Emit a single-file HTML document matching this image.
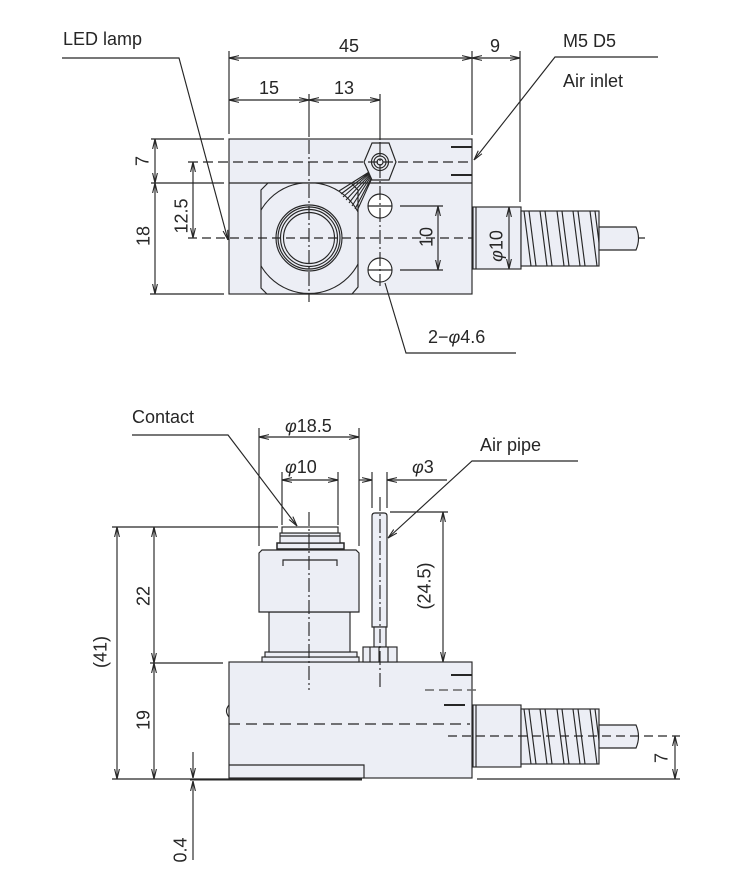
<!DOCTYPE html>
<html><head><meta charset="utf-8"><style>
html,body{margin:0;padding:0;background:#fff;}
svg{display:block;}
text{font-family:"Liberation Sans",Arial,sans-serif;font-size:18px;fill:#262626;}
</style></head><body>
<svg width="735" height="877" viewBox="0 0 735 877" xmlns="http://www.w3.org/2000/svg">
<defs>
<marker id="ar" viewBox="0 0 10 6" refX="10" refY="3" markerWidth="10" markerHeight="6" markerUnits="userSpaceOnUse" orient="auto-start-reverse"><path d="M0,0.6 L10,3 L0,5.4" fill="none" stroke="#262626" stroke-width="1.1"/></marker>
<clipPath id="plateClip"><polygon points="261,190 268,183 351,183 358,190 358,287 352,294 267,294 261,288"/></clipPath>
<clipPath id="springClip"><rect x="521" y="211" width="78" height="55"/></clipPath>
<g id="fit">
  <rect x="473" y="207" width="48" height="62" fill="#eceef5" stroke="#262626" stroke-width="1.15"/>
  <line x1="476" y1="207" x2="476" y2="269" stroke="#262626" stroke-width="1.15"/>
  <rect x="521" y="211" width="78" height="55" fill="#eceef5" stroke="#262626" stroke-width="1.15"/>
  <g clip-path="url(#springClip)" stroke="#262626" stroke-width="1.15" fill="none">
    <path d="M524,211 L531,266 M529,211 L536,266 M540,211 L547,266 M545,211 L552,266 M557,211 L564,266 M562,211 L569,266 M573,211 L580,266 M578,211 L585,266 M590,211 L597,266 M595,211 L602,266"/>
  </g>
  <path d="M599,227 L636,227 Q641,238.5 636,250 L599,250 Z" fill="#eceef5" stroke="#262626" stroke-width="1.15"/>
</g>
</defs>

<g stroke="#262626" stroke-width="1.15" fill="none">
<!-- ================= TOP VIEW ================= -->
<rect x="229" y="139" width="243" height="155" fill="#eceef5"/>
<line x1="229" y1="183" x2="472" y2="183"/>
<polygon points="261,190 268,183 351,183 358,190 358,287 352,294 267,294 261,288" fill="#eceef5"/>
<circle cx="309" cy="238" r="55.5" clip-path="url(#plateClip)"/>
<circle cx="309" cy="238" r="33"/>
<circle cx="309" cy="238" r="31"/>
<circle cx="309" cy="238" r="28.5"/>
<circle cx="309" cy="238" r="25.5" fill="#eceef5"/>
<!-- hatch wedge -->
<path d="M377,167 L339,191 M377,167 L341,194 M377,167 L343,197 M377,167 L346,200 M377,167 L349,203 M377,167 L352,206 M377,167 L355,209 M377,167 L357,211" stroke-width="1.1"/>
<!-- hex nut -->
<polygon points="372,143 389,143 396,162 389,180 372,180 364,162" fill="#eceef5"/>
<circle cx="380" cy="162" r="8.5"/>
<circle cx="380" cy="162" r="6"/>
<circle cx="380" cy="162" r="3"/>
<!-- holes -->
<circle cx="380" cy="206" r="12" fill="#fff"/>
<circle cx="380" cy="270" r="12" fill="#fff"/>
<line x1="368" y1="206" x2="392" y2="206"/>
<line x1="368" y1="270" x2="392" y2="270"/>
<!-- right short lines -->
<line x1="451" y1="147" x2="472" y2="147" stroke-width="2"/>
<line x1="451" y1="175" x2="472" y2="175" stroke-width="2"/>
<!-- center lines -->
<line x1="188" y1="162" x2="472" y2="162" stroke-dasharray="10,5"/>
<line x1="188" y1="238" x2="646" y2="238" stroke-dasharray="9,5"/>
<line x1="309" y1="94" x2="309" y2="137"/>
<line x1="309" y1="140" x2="309" y2="302" stroke-dasharray="14,3,2,3"/>
<line x1="380" y1="94" x2="380" y2="140"/>
<line x1="380" y1="142" x2="380" y2="286" stroke-dasharray="14,3,2,3"/>
<!-- fitting -->
<use href="#fit"/>
<!-- dims top -->
<line x1="229" y1="51" x2="229" y2="134"/>
<line x1="472" y1="51" x2="472" y2="135"/>
<line x1="520" y1="51" x2="520" y2="202"/>
<line x1="229" y1="58" x2="472" y2="58" marker-start="url(#ar)" marker-end="url(#ar)"/>
<line x1="472" y1="58" x2="520" y2="58" marker-start="url(#ar)" marker-end="url(#ar)"/>
<line x1="229" y1="100" x2="309" y2="100" marker-start="url(#ar)" marker-end="url(#ar)"/>
<line x1="309" y1="100" x2="380" y2="100" marker-start="url(#ar)" marker-end="url(#ar)"/>
<line x1="151" y1="139" x2="224" y2="139"/>
<line x1="151" y1="183" x2="224" y2="183"/>
<line x1="150" y1="294" x2="224" y2="294"/>
<line x1="155" y1="139" x2="155" y2="183" marker-start="url(#ar)" marker-end="url(#ar)"/>
<line x1="155" y1="183" x2="155" y2="294" marker-start="url(#ar)" marker-end="url(#ar)"/>
<line x1="193" y1="162" x2="193" y2="238" marker-start="url(#ar)" marker-end="url(#ar)"/>
<line x1="400" y1="206" x2="443" y2="206"/>
<line x1="400" y1="270" x2="443" y2="270"/>
<line x1="438" y1="206" x2="438" y2="270" marker-start="url(#ar)" marker-end="url(#ar)"/>
<line x1="509" y1="207" x2="509" y2="269" marker-start="url(#ar)" marker-end="url(#ar)"/>
<!-- leaders top -->
<polyline points="62,58 179,58 228,240" marker-end="url(#ar)"/>
<polyline points="658,57 555,57 474,160" marker-end="url(#ar)"/>
<polyline points="385,283 406,353 516,353"/>

<!-- ================= BOTTOM VIEW ================= -->
<rect x="229" y="662" width="243" height="116" fill="#eceef5"/>
<polyline points="229,765 364,765 364,778"/>
<line x1="190" y1="779.5" x2="362" y2="779.5" stroke-width="2"/>
<path d="M229,705 Q224,711 229,717"/>
<line x1="229" y1="724" x2="470" y2="724" stroke-dasharray="11,6"/>
<line x1="451" y1="675" x2="472" y2="675" stroke-width="2"/>
<line x1="425" y1="690" x2="480" y2="690" stroke-dasharray="9,5" stroke="#666" stroke-width="1.5"/>
<line x1="444" y1="705" x2="465" y2="705" stroke-width="2"/>
<use href="#fit" transform="translate(0,498)"/>
<line x1="448" y1="736" x2="680" y2="736" stroke-dasharray="9,5"/>
<!-- cylinder -->
<rect x="262" y="657" width="97" height="5" fill="#eceef5"/>
<rect x="265" y="652" width="92" height="5" fill="#eceef5"/>
<rect x="269" y="612" width="81" height="40" fill="#eceef5"/>
<path d="M259,553 L262,550 L356,550 L359,553 L359,612 L259,612 Z" fill="#eceef5"/>
<path d="M283,566 L283,560 L337,560 L337,566"/>
<rect x="277" y="543" width="67" height="6" fill="#eceef5" stroke-width="1.5"/>
<rect x="280" y="533" width="60" height="10" fill="#eceef5"/>
<line x1="280" y1="536" x2="340" y2="536"/>
<rect x="282" y="527" width="56" height="6" fill="#fff"/>
<line x1="309" y1="512" x2="309" y2="690" stroke-dasharray="14,3,2,3"/>
<!-- air pipe -->
<path d="M372,627 L372,516 Q372,513 375,513 L384,513 Q387,513 387,516 L387,627 Z" fill="#eceef5"/>
<rect x="374" y="627" width="12" height="20" fill="#eceef5"/>
<rect x="363" y="647" width="34" height="15" fill="#eceef5"/>
<path d="M370,647 L370,662 M379,647 L379,662 M388,647 L388,662"/>
<line x1="380" y1="497" x2="380" y2="690" stroke-dasharray="14,3,2,3"/>
<!-- dims bottom -->
<line x1="259" y1="428" x2="259" y2="546"/>
<line x1="359" y1="428" x2="359" y2="546"/>
<line x1="259" y1="437" x2="359" y2="437" marker-start="url(#ar)" marker-end="url(#ar)"/>
<line x1="282" y1="472" x2="282" y2="525"/>
<line x1="338" y1="472" x2="338" y2="525"/>
<line x1="282" y1="480" x2="338" y2="480" marker-start="url(#ar)" marker-end="url(#ar)"/>
<line x1="372" y1="472" x2="372" y2="508"/>
<line x1="387" y1="472" x2="387" y2="508"/>
<line x1="359" y1="480" x2="372" y2="480" marker-end="url(#ar)"/>
<line x1="447" y1="480" x2="387" y2="480" marker-end="url(#ar)"/>
<line x1="390" y1="512" x2="448" y2="512"/>
<line x1="443" y1="512" x2="443" y2="662" marker-start="url(#ar)" marker-end="url(#ar)"/>
<line x1="112" y1="527" x2="278" y2="527"/>
<line x1="150" y1="663" x2="223" y2="663"/>
<line x1="112" y1="779" x2="229" y2="779"/>
<line x1="117" y1="527" x2="117" y2="779" marker-start="url(#ar)" marker-end="url(#ar)"/>
<line x1="154" y1="527" x2="154" y2="663" marker-start="url(#ar)" marker-end="url(#ar)"/>
<line x1="154" y1="663" x2="154" y2="779" marker-start="url(#ar)" marker-end="url(#ar)"/>
<line x1="193" y1="752" x2="193" y2="778" marker-end="url(#ar)"/>
<line x1="193" y1="860" x2="193" y2="781" marker-end="url(#ar)"/>
<line x1="477" y1="779" x2="680" y2="779"/>
<line x1="675" y1="736" x2="675" y2="779" marker-start="url(#ar)" marker-end="url(#ar)"/>
<!-- leaders bottom -->
<polyline points="132,435 228,435 297,526" marker-end="url(#ar)"/>
<polyline points="578,461 472,461 388,538" marker-end="url(#ar)"/>
</g>

<!-- ============ TEXT ============ -->
<text x="63" y="45">LED lamp</text>
<text x="349" y="52" text-anchor="middle">45</text>
<text x="495" y="52" text-anchor="middle">9</text>
<text x="269" y="94" text-anchor="middle">15</text>
<text x="344" y="94" text-anchor="middle">13</text>
<text x="563" y="47">M5 D5</text>
<text x="563" y="87">Air inlet</text>
<text x="142" y="167.5" text-anchor="middle" transform="rotate(-90 142 161)">7</text>
<text x="181" y="222.5" text-anchor="middle" transform="rotate(-90 181 216)">12.5</text>
<text x="143" y="242.5" text-anchor="middle" transform="rotate(-90 143 236)">18</text>
<text x="426" y="243.5" text-anchor="middle" transform="rotate(-90 426 237)">10</text>
<text x="496" y="252.5" text-anchor="middle" transform="rotate(-90 496 246)"><tspan font-style="italic">φ</tspan>10</text>
<text x="428" y="343">2−<tspan font-style="italic">φ</tspan>4.6</text>

<text x="132" y="423">Contact</text>
<text x="285" y="432"><tspan font-style="italic">φ</tspan>18.5</text>
<text x="285" y="473"><tspan font-style="italic">φ</tspan>10</text>
<text x="412" y="473"><tspan font-style="italic">φ</tspan>3</text>
<text x="480" y="451">Air pipe</text>
<text x="424" y="592.5" text-anchor="middle" transform="rotate(-90 424 586)">(24.5)</text>
<text x="100" y="658.5" text-anchor="middle" transform="rotate(-90 100 652)">(41)</text>
<text x="143" y="602.5" text-anchor="middle" transform="rotate(-90 143 596)">22</text>
<text x="143" y="726.5" text-anchor="middle" transform="rotate(-90 143 720)">19</text>
<text x="180" y="856.5" text-anchor="middle" transform="rotate(-90 180 850)">0.4</text>
<text x="661" y="764.5" text-anchor="middle" transform="rotate(-90 661 758)">7</text>
</svg>
</body></html>
